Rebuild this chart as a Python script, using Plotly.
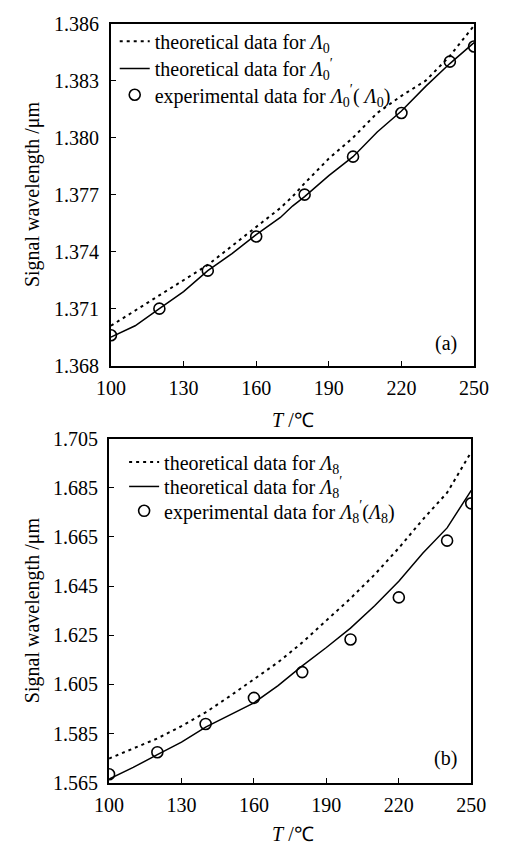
import plotly.graph_objects as go

# ---------------- data ----------------
T_line = [100, 110, 120, 130, 140, 150, 160, 170, 175, 180, 190, 200, 210, 220, 230, 240, 250]
a_theory_L0 = [1.3701, 1.3709, 1.3717, 1.3725, 1.3733, 1.3743, 1.3753, 1.3763, 1.3769, 1.3776, 1.3789, 1.3800,
               1.3813, 1.3822, 1.3830, 1.3843, 1.3859]
a_theory_L0p = [1.3695, 1.3701, 1.3710, 1.3719, 1.3730, 1.3739, 1.3749, 1.3758, 1.3764, 1.3769, 1.3780, 1.3790,
                1.3803, 1.3814, 1.3827, 1.3839, 1.3850]

T_exp = [100, 120, 140, 160, 180, 200, 220, 240, 250]
a_exp = [1.3696, 1.3710, 1.3730, 1.3748, 1.3770, 1.3790, 1.3813, 1.3840, 1.3848]

T_line_b = [100, 110, 120, 130, 140, 150, 160, 170, 180, 190, 200, 210, 220, 230, 240, 250]
b_theory_L8 = [1.5748, 1.5788, 1.5830, 1.5880, 1.5936, 1.6002, 1.6072, 1.6140, 1.6220, 1.6310, 1.6400, 1.6497,
               1.6605, 1.6722, 1.6830, 1.6996]
b_theory_L8p = [1.5665, 1.5712, 1.5764, 1.5815, 1.5876, 1.5925, 1.5975, 1.6045, 1.6125, 1.6200, 1.6279, 1.6370,
                1.6470, 1.6585, 1.6687, 1.6840]
b_exp = [1.5684, 1.5774, 1.5889, 1.5995, 1.6100, 1.6233, 1.6404, 1.6635, 1.6787]

x_ticks = [100, 130, 160, 190, 220, 250]
a_yticks = [1.368, 1.371, 1.374, 1.377, 1.380, 1.383, 1.386]
b_yticks = [1.565, 1.585, 1.605, 1.625, 1.645, 1.665, 1.685, 1.705]

# ---------------- figure ----------------
W, H = 506, 856
FONT = "Liberation Serif"
fs = 20

def px(x):
    return x / W

def py(y):
    return 1 - y / H

fig = go.Figure()

dash_style = dict(color="black", width=2, dash="3px,4px")
solid_style = dict(color="black", width=1.5)
marker_style = dict(symbol="circle-open", size=11, color="black", line=dict(width=1.6, color="black"))

fig.add_trace(go.Scatter(x=T_line, y=a_theory_L0, mode="lines", line=dash_style,
                         name="theoretical data for <i>Λ</i><sub>0</sub>", xaxis="x", yaxis="y", legend="legend"))
fig.add_trace(go.Scatter(x=T_line, y=a_theory_L0p, mode="lines", line=solid_style,
                         name="theoretical data for <i>Λ</i><sub>0</sub><sup>′</sup>", xaxis="x", yaxis="y", legend="legend2"))
fig.add_trace(go.Scatter(x=T_exp, y=a_exp, mode="markers", marker=marker_style,
                         name="experimental data for <i>Λ</i><sub>0</sub><sup>′</sup>( <i>Λ</i><sub>0</sub>)",
                         xaxis="x", yaxis="y", legend="legend3"))

fig.add_trace(go.Scatter(x=T_line_b, y=b_theory_L8, mode="lines", line=dash_style,
                         name="theoretical data for <i>Λ</i><sub>8</sub>", xaxis="x2", yaxis="y2", legend="legend4"))
fig.add_trace(go.Scatter(x=T_line_b, y=b_theory_L8p, mode="lines", line=solid_style,
                         name="theoretical data for <i>Λ</i><sub>8</sub><sup>′</sup>", xaxis="x2", yaxis="y2", legend="legend5"))
fig.add_trace(go.Scatter(x=T_exp, y=b_exp, mode="markers", marker=marker_style,
                         name="experimental data for <i>Λ</i><sub>8</sub><sup>′</sup>(<i>Λ</i><sub>8</sub>)",
                         xaxis="x2", yaxis="y2", legend="legend6"))

axis_common = dict(showline=True, linecolor="black", linewidth=2, mirror=True, ticks="inside",
                   ticklen=5, tickwidth=1, tickcolor="black", showgrid=False, zeroline=False,
                   tickfont=dict(family=FONT, size=fs, color="black"))

def leg(xpix, ypix):
    return dict(x=px(xpix), y=py(ypix), xanchor="left", yanchor="middle", bgcolor="rgba(0,0,0,0)",
                font=dict(family=FONT, size=fs), tracegroupgap=0, itemwidth=30)

fig.update_layout(
    width=W, height=H, margin=dict(l=0, r=0, t=0, b=0),
    paper_bgcolor="white", plot_bgcolor="white",
    font=dict(family=FONT, size=fs, color="black"),
    xaxis=dict(domain=[px(102), px(488)], range=[100, 250], tickvals=x_ticks, anchor="y",
               ticklabelstandoff=3, **axis_common),
    yaxis=dict(domain=[py(364), py(13)], range=[1.368, 1.386], tickvals=a_yticks, tickformat=".3f",
               anchor="x", ticklabelstandoff=6, **axis_common),
    xaxis2=dict(domain=[px(100), px(485)], range=[100, 250], tickvals=x_ticks, anchor="y2",
                ticklabelstandoff=3, **axis_common),
    yaxis2=dict(domain=[py(792), py(439)], range=[1.565, 1.705], tickvals=b_yticks, tickformat=".3f",
                anchor="x2", ticklabelstandoff=5, **axis_common),
    legend=leg(106, 31),
    legend2=leg(106, 59),
    legend3=leg(106, 86),
    legend4=leg(116, 463),
    legend5=leg(116, 488),
    legend6=leg(116, 513),
    showlegend=True,
)

annotations = [
    dict(x=px(458), y=py(341), text="(a)"),
    dict(x=px(458), y=py(767), text="(b)"),
    dict(x=px(295), y=py(420), text="<i>T</i> /℃"),
    dict(x=px(295), y=py(845), text="<i>T</i> /℃"),
    dict(x=px(18), y=py(188), text="Signal wavelength /μm", textangle=-90),
    dict(x=px(18), y=py(615), text="Signal wavelength /μm", textangle=-90),
]
for a in annotations:
    fig.add_annotation(xref="paper", yref="paper", showarrow=False, xanchor="center", yanchor="middle",
                       font=dict(family=FONT, size=fs, color="black"), **a)

fig.write_html("out.html", post_script="document.body.style.margin='0';")
